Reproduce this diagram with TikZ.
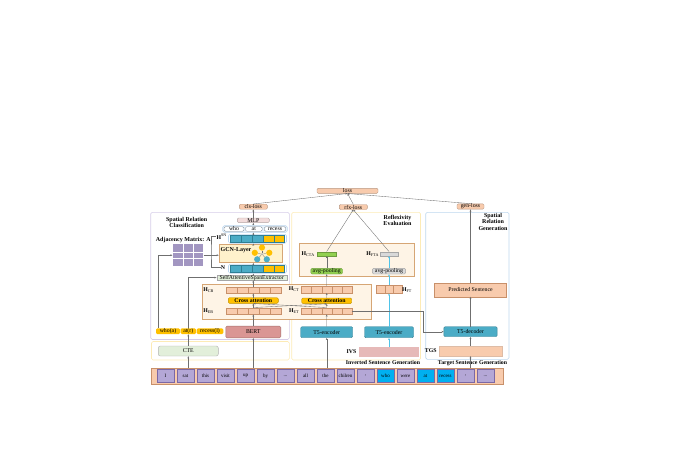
\documentclass[tikz,border=0pt]{standalone}
\usepackage{fontspec}
\setmainfont{Liberation Serif}
\usetikzlibrary{arrows.meta}
\definecolor{peach}{HTML}{F8CBAD}
\definecolor{peachdk}{HTML}{C8906A}
\definecolor{creamfill}{HTML}{FEF4E6}
\definecolor{tanline}{HTML}{D6A675}
\definecolor{tfblue}{HTML}{4BACC6}
\definecolor{tfbluedk}{HTML}{2E7F95}
\definecolor{goldfill}{HTML}{FFC000}
\definecolor{lilacfill}{HTML}{B4A7D6}
\definecolor{lilacdk}{HTML}{7B68A6}
\definecolor{lilacline}{HTML}{D5CCE8}
\definecolor{cyanfill}{HTML}{00B0F0}
\definecolor{mintfill}{HTML}{E2EFDA}
\definecolor{rosefill}{HTML}{DA9694}
\definecolor{ivsfill}{HTML}{E6B9B8}
\definecolor{mlpfill}{HTML}{F2DCDB}
\definecolor{paleblue}{HTML}{BDD7EE}
\definecolor{skyline}{HTML}{4FC3E8}
\definecolor{grnfill}{HTML}{92D050}
\definecolor{gcnfill}{HTML}{FFF2CC}
\definecolor{yelline}{HTML}{FCEBB6}
\definecolor{wiregray}{HTML}{6F6F6F}
\definecolor{poolgray}{HTML}{D9D9D9}
\begin{document}
\begin{tikzpicture}[x=1pt,y=-1pt,
  every node/.style={font=\fontsize{5.8}{6.2}\selectfont, inner sep=0pt},
  ttl/.style={font=\fontsize{6}{6.4}\selectfont\bfseries, align=center},
  bld/.style={font=\fontsize{5.8}{6.2}\selectfont\bfseries},
  panel/.style={draw=#1, line width=0.6pt, rounded corners=1.5pt},
  orangebox/.style={draw=tanline, fill=creamfill, line width=0.6pt},
  blk/.style={draw=#1!75!black, fill=#1, line width=0.4pt, rounded corners=1.2pt},
  lossbox/.style={blk=peach, minimum width=28, minimum height=5},
  cell/.style={draw=peachdk, fill=peach, line width=0.3pt, minimum width=11, minimum height=6.6},
  sncell/.style={draw=tfbluedk, fill=#1, line width=0.3pt, minimum width=10.8, minimum height=6.8},
  snbar/.style={draw=paleblue, line width=0.6pt, rounded corners=1.5pt, minimum width=58, minimum height=9},
  spantok/.style={draw=paleblue!60!black, fill=white, line width=0.3pt, rounded corners=1.5pt, minimum height=4.6},
  tok/.style={draw=lilacdk, fill=#1, line width=0.4pt, minimum width=17, minimum height=13, font=\fontsize{5}{5.5}\selectfont},
  tok/.default=lilacfill,
  wire/.style={draw=wiregray, line width=0.35pt, -{Stealth[length=2.2pt,width=1.8pt]}},
  skywire/.style={wire, draw=skyline},
  gnode/.style={circle, fill=#1, minimum size=6.2}
]
\useasboundingbox (0,0) rectangle (673,469);
% panels
\draw[panel=lilacline] (150.7,212.3) rectangle (289.3,339.5);
\draw[panel=yelline] (151.5,341.5) rectangle (289.3,360);
\draw[panel=yelline] (291.7,212.3) rectangle (420.5,360);
\draw[panel=paleblue] (425.7,212.3) rectangle (509,359.3);
\draw[orangebox] (202.3,284.3) rectangle (371.7,319.3);
\draw[orangebox] (299.3,243.3) rectangle (414,276.5);
\node[ttl] (srctitle) at (186.7,222.6) {Spatial Relation\\Classification};
\node[ttl] (rfxtitle) at (397.5,220.3) {Reflexivity\\Evaluation};
\node[ttl] (gentitle) at (493,221.8) {Spatial\\Relation\\Generation};
% losses
\node[lossbox, minimum width=61] (loss) at (347.5,190.8) {loss};
\node[lossbox] (clsloss) at (253.3,206.7) {cls-loss};
\node[lossbox] (rfxloss) at (353.3,207) {rfx-loss};
\node[lossbox, minimum width=27] (genloss) at (470.5,206.5) {gen-loss};
% spatial relation classification
\node[blk=mlpfill, minimum width=32, minimum height=4.6] (mlp) at (253.3,220.3) {MLP};
\node[draw=paleblue, fill=paleblue!35, line width=0.5pt, rounded corners=1.5pt, minimum width=64.6, minimum height=6.6] (spanrow) at (255,229) {};
\node[spantok, minimum width=20] (spwho) at (234,229) {who};
\node[spantok, minimum width=17] (spat) at (253.8,229) {at};
\node[spantok, minimum width=21.5] (sprecess) at (275,229) {recess};
\node[snbar] (hsn) at (257.5,238.8) {};
\foreach \i/\c in {0/tfblue,1/tfblue,2/tfblue,3/goldfill,4/goldfill}
  \node[sncell=\c] (hsn\i) at (235.9+10.8*\i,238.8) {};
\node (hsnlab) at (221.7,236.6) {$\mathbf{H}^{\mathrm{SN}}$};
\node[draw=tanline, fill=gcnfill, line width=0.6pt, minimum width=63.3, minimum height=18.4] (gcn) at (250.7,253.5) {};
\node[bld, font=\fontsize{6}{6.4}\selectfont\bfseries] (gcnlab) at (236,250.5) {GCN-Layer};
\node[gnode=goldfill] (g1) at (262,247.6) {};
\node[gnode=goldfill] (g2) at (254.8,252.8) {};
\node[gnode=goldfill] (g3) at (269.3,252.8) {};
\node[gnode=tfblue] (g4) at (257.2,259.3) {};
\node[gnode=tfblue] (g5) at (266.8,259.3) {};
\node[circle, fill=gray!60, minimum size=2.2] (g0) at (262,254.2) {};
\foreach \k in {1,...,5} \draw[wiregray, line width=0.3pt] (g0) -- (g\k);
\node[snbar] (nbar) at (257.5,268.8) {};
\foreach \i/\c in {0/tfblue,1/tfblue,2/tfblue,3/goldfill,4/goldfill}
  \node[sncell=\c] (nb\i) at (235.9+10.8*\i,268.8) {};
\node (nlab) at (223,267.6) {$\mathbf{N}$};
\node[draw=gray!70, fill=mintfill, line width=0.3pt, minimum width=70, minimum height=5] (extr) at (251.7,277.6) {SelfAttentiveSpanExtractor};
\node[bld, font=\fontsize{6}{6.4}\selectfont\bfseries] (adjlab) at (183.3,240.2) {Adjacency Matrix: A};
\node[fill=lilacfill!90!black, minimum width=30.6, minimum height=22] (adj) at (188,255.2) {};
\foreach \u in {182.9,193.1} \draw[white, line width=0.5pt] (\u,244.2) -- (\u,266.2);
\foreach \v in {251.9,258.5} \draw[white, line width=0.5pt] (172.7,\v) -- (203.3,\v);
% cross attention block
\foreach \i in {0,...,4} {
  \node[cell] (hcb\i) at (231.3+11*\i,290) {};
  \node[cell] (heb\i) at (231.3+11*\i,311) {};
  \node[cell, minimum width=10.1] (hct\i) at (306.5+10.1*\i,289.5) {};
  \node[cell, minimum width=10.1] (het\i) at (306.5+10.1*\i,311) {};
}
\node (hcblab) at (208.5,290) {$\mathbf{H}_{\mathrm{CB}}$};
\node (heblab) at (208.5,311.2) {$\mathbf{H}_{\mathrm{EB}}$};
\node (hctlab) at (294,289.5) {$\mathbf{H}_{\mathrm{CT}}$};
\node (hetlab) at (294,311.2) {$\mathbf{H}_{\mathrm{ET}}$};
\node[blk=goldfill, bld, minimum width=50, minimum height=5.6] (cal) at (253.3,300.5) {Cross attention};
\node[blk=goldfill, bld, minimum width=50, minimum height=5.6] (car) at (326.7,300.8) {Cross attention};
% reflexivity evaluation
\node[blk=grnfill, minimum width=31.6, minimum height=5.6] (avggrn) at (326.7,271.2) {avg-pooling};
\node[blk=poolgray, minimum width=33.3, minimum height=5.6] (avggry) at (389,271.2) {avg-pooling};
\node[draw=grnfill!75!black, fill=grnfill, line width=0.3pt, minimum width=19.3, minimum height=4.3] (grnbar) at (326.7,253.8) {};
\node[draw=gray!70, fill=poolgray, line width=0.3pt, minimum width=18.3, minimum height=4.3] (grybar) at (389,253.8) {};
\node (ctalab) at (308.3,254) {$\mathbf{H}_{\mathrm{CTA}}$};
\node (ftalab) at (372.8,254) {$\mathbf{H}_{\mathrm{FTA}}$};
\foreach \i in {0,1,2}
  \node[cell, minimum width=8.6, minimum height=8] (hft\i) at (380.4+8.6*\i,289.3) {};
\node (hftlab) at (407,289.6) {$\mathbf{H}_{\mathrm{FT}}$};
% encoders and inputs
\node[blk=rosefill, minimum width=55, minimum height=11.7] (bert) at (253.3,332) {BERT};
\node[blk=tfblue, minimum width=52, minimum height=11] (t5encl) at (326.7,332.2) {T5-encoder};
\node[blk=tfblue, minimum width=49, minimum height=11] (t5encr) at (389,332.2) {T5-encoder};
\node[blk=tfblue, minimum width=53.3, minimum height=10] (t5dec) at (470.5,331.7) {T5-decoder};
\node[blk=goldfill, draw=none, minimum width=24, minimum height=5.7] (whoa) at (168,331.2) {who(a)};
\node[blk=goldfill, draw=none, minimum width=15.3, minimum height=5.7] (atr) at (188.3,331.2) {at(r)};
\node[blk=goldfill, draw=none, minimum width=26.6, minimum height=5.7] (recessl) at (210,331.2) {recess(l)};
\node[draw=gray!60, fill=mintfill, line width=0.4pt, rounded corners=2pt, minimum width=60, minimum height=10] (cte) at (188.3,351) {CTE};
\node[fill=ivsfill, minimum width=60, minimum height=10] (ivs) at (389,352.3) {};
\node[bld] (ivslab) at (351.5,351.7) {IVS};
\node[draw=peachdk!60, fill=peach, line width=0.3pt, minimum width=63.3, minimum height=10] (tgs) at (470.5,351) {};
\node[bld] (tgslab) at (430.7,350.7) {TGS};
\node[draw=peachdk, fill=peach, line width=0.4pt, minimum width=71.7, minimum height=13.4] (pred) at (470.5,290) {Predicted Sentence};
\node[bld] (isglab) at (383,362.8) {Inverted Sentence Generation};
\node[bld] (tsglab) at (472.5,362.8) {Target Sentence Generation};
% sentence tokens
\node[draw=peachdk, fill=peach, line width=0.5pt, minimum width=352, minimum height=16] (strip) at (327,376) {};
\node[tok] (t1) at (165.5,376) {I};
\node[tok] (t2) at (185.5,376) {sat};
\node[tok] (t3) at (205.5,376) {this};
\node[tok] (t4) at (225.5,376) {visit};
\node[tok] (t5) at (245.5,376) {up};
\node[tok] (t6) at (265.5,376) {by};
\node[tok] (t7) at (285.5,376) {...};
\node[tok] (t8) at (305.5,376) {all};
\node[tok] (t9) at (325.5,376) {the};
\node[tok] (t10) at (345.5,376) {chilren};
\node[tok] (t11) at (365.5,376) {,};
\node[tok=cyanfill] (t12) at (385.5,376) {who};
\node[tok] (t13) at (405.5,376) {were};
\node[tok=cyanfill] (t14) at (425.5,376) {at};
\node[tok=cyanfill] (t15) at (445.5,376) {recess};
\node[tok] (t16) at (465.5,376) {,};
\node[tok] (t17) at (485.5,376) {...};
% connectors
\draw[wire] (strip.north -| cte.south) -- (cte.south);
\draw[wire] (strip.north -| bert.south) -- (bert.south);
\draw[wire] (strip.north -| t5encl.south) -- (t5encl.south);
\draw[wire] (strip.north -| tgs.south) -- (tgs.south);
\draw[wire] (cte.north) -- (atr.south);
\draw[wire] (atr.north) |- (extr.west);
\draw[wire] ([xshift=2pt]whoa.north west) |- (adj.west);
\draw[wire] (adj.east) -- (adj.east -| gcn.west);
\coordinate (sbend) at (211,252);
\draw[wiregray, line width=0.35pt] (nlab.west) -| (sbend) |- (hsnlab.west);
\draw[wire] (bert.north) -- (heb2.south);
\draw[wire] (heb2.north) -- (cal.south);
\draw[wire] (heb2.north) -- (car.south);
\draw[wire] (cal.north) -- (hcb2.south);
\draw[wire] (hcb2.north) -- (hcb2.north |- extr.south);
\draw[wire] (extr.north -| mlp.south) -- (nbar.south -| mlp.south);
\draw[wire] (nbar.north -| mlp.south) -- (gcn.south -| mlp.south);
\draw[wire] (gcn.north -| mlp.south) -- (hsn.south -| mlp.south);
\draw[wire] (hsn.north -| mlp.south) -- (spanrow.south -| mlp.south);
\draw[wire] (spanrow.north -| mlp.south) -- (mlp.south);
\draw[wire] (mlp.north) -- (clsloss.south);
\draw[wire] (clsloss.north) -- (loss.south);
\draw[wire] (t5encl.north) -- (het2.south);
\draw[wire] (het2.north) -- (car.south);
\draw[wire] (het2.north) -- (cal.south);
\draw[wire] (car.north) -- (hct2.south);
\draw[wire] (hct2.north) -- (avggrn.south);
\draw[wire] (avggrn.north) -- (grnbar.south);
\draw[wire] (grnbar.north) -- (rfxloss.south);
\draw[wire] (grybar.north) -- (rfxloss.south);
\draw[wire] (rfxloss.north) -- (loss.south);
\draw[skywire] (ivs.north) -- (t5encr.south);
\draw[skywire] (t5encr.north) -- (hft1.south);
\draw[skywire] (hft1.north) -- (avggry.south);
\draw[skywire] (avggry.north) -- (grybar.south);
\coordinate (tbend) at (423.3,320);
\draw[wire] (het4.east) -| (tbend) |- (t5dec.west);
\draw[wire] (tgs.north) -- (t5dec.south);
\draw[wire] (t5dec.north) -- (pred.south);
\draw[wire] (pred.north) -- (genloss.south);
\draw[wire] (genloss.north) -- (loss.south);
\end{tikzpicture}
\end{document}
